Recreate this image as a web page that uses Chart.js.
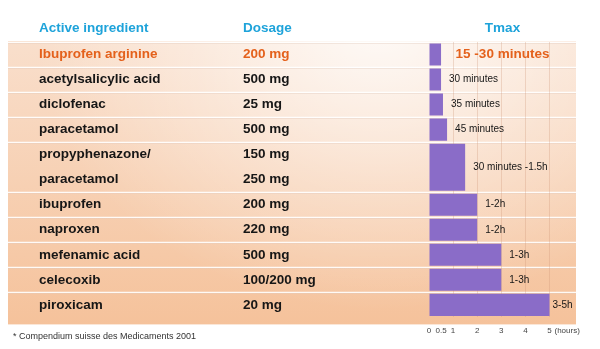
<!DOCTYPE html>
<html>
<head>
<meta charset="utf-8">
<script src="https://cdn.jsdelivr.net/npm/chart.js@4.4.0/dist/chart.umd.min.js"></script>
<style>
  html, body { margin: 0; padding: 0; background: #fff; }
  #wrap { width: 600px; height: 349px; }
</style>
</head>
<body>
<div id="wrap"><canvas id="tmaxChart" width="600" height="349"></canvas></div>
<script>
// Table rows (a two-line entry spans two row units)
const ingredients = ['Ibuprofen arginine', 'acetylsalicylic acid', 'diclofenac', 'paracetamol',
  ['propyphenazone/', 'paracetamol'], 'ibuprofen', 'naproxen', 'mefenamic acid', 'celecoxib', 'piroxicam'];
const dosages = ['200 mg', '500 mg', '25 mg', '500 mg', ['150 mg', '250 mg'], '200 mg', '220 mg',
  '500 mg', '100/200 mg', '20 mg'];
const rowSpans = [1, 1, 1, 1, 2, 1, 1, 1, 1, 1];

// Tmax: printed range and bar length in hours (upper end of the range)
const tmaxLabels = ['15 -30 minutes', '30 minutes', '35 minutes', '45 minutes', '30 minutes -1.5h',
  '1-2h', '1-2h', '1-3h', '1-3h', '3-5h'];
const tmaxHours = [0.5, 0.5, 0.58, 0.75, 1.5, 2, 2, 3, 3, 5];

const hourTicks = [0, 0.5, 1, 2, 3, 4, 5];
const footnote = '* Compendium suisse des Medicaments 2001';

const FONT = '"Liberation Sans", Arial, Helvetica, sans-serif';
const ORANGE = '#e4611c';
const BLUE = '#1ea3da';
const PURPLE = '#8a6cc8';
const TEXT = '#161616';

// where each row starts on the row axis
const rowStart = [];
let acc = 0;
rowSpans.forEach(s => { rowStart.push(acc); acc += s; });
const totalRows = acc;

const singleBars = [];
const doubleBars = [];
tmaxHours.forEach((h, i) => {
  const pt = { x: h, y: rowStart[i] + rowSpans[i] / 2 };
  (rowSpans[i] > 1 ? doubleBars : singleBars).push(pt);
});

const TABLE_LEFT = 8;
const NAME_X = 39;
const DOSE_X = 243;

const tablePlugin = {
  id: 'tableBackground',
  beforeDraw(chart) {
    const { ctx, chartArea } = chart;
    const y = chart.scales.y;
    const top = y.getPixelForValue(0) - 1;
    const bottom = chartArea.bottom + 7;
    const right = chartArea.right;

    ctx.save();
    // peach panel, darker towards the bottom
    const vg = ctx.createLinearGradient(0, top, 0, bottom);
    vg.addColorStop(0, '#f9dfcc');
    vg.addColorStop(1, '#f5c29b');
    ctx.fillStyle = vg;
    ctx.fillRect(TABLE_LEFT, top, right - TABLE_LEFT, bottom - top);

    // pale highlight across the upper middle
    ctx.save();
    ctx.beginPath();
    ctx.rect(TABLE_LEFT, top, right - TABLE_LEFT, bottom - top);
    ctx.clip();
    ctx.translate(380, 20);
    ctx.scale(1.2, 1);
    const rg = ctx.createRadialGradient(0, 0, 0, 0, 0, 290);
    rg.addColorStop(0, 'rgba(255,255,255,0.85)');
    rg.addColorStop(0.55, 'rgba(255,255,255,0.35)');
    rg.addColorStop(1, 'rgba(255,255,255,0)');
    ctx.fillStyle = rg;
    ctx.fillRect(-400, -50, 800, 400);
    ctx.restore();

    // row separators
    ctx.strokeStyle = 'rgba(255,255,255,0.9)';
    ctx.lineWidth = 1.5;
    rowStart.forEach(r => {
      const py = Math.round(y.getPixelForValue(r)) + 0.5;
      ctx.beginPath();
      ctx.moveTo(TABLE_LEFT, py);
      ctx.lineTo(right, py);
      ctx.stroke();
    });
    ctx.strokeStyle = 'rgba(200,160,135,0.35)';
    ctx.lineWidth = 0.6;
    rowStart.forEach(r => {
      const py = Math.round(y.getPixelForValue(r)) + 1.5;
      ctx.beginPath();
      ctx.moveTo(TABLE_LEFT, py);
      ctx.lineTo(right, py);
      ctx.stroke();
    });

    // header
    ctx.textBaseline = 'middle';
    ctx.font = 'bold 13.5px ' + FONT;
    ctx.fillStyle = BLUE;
    ctx.textAlign = 'left';
    ctx.fillText('Active ingredient', NAME_X, 28);
    ctx.fillText('Dosage', DOSE_X, 28);
    ctx.textAlign = 'center';
    ctx.fillText('Tmax', (chartArea.left + chartArea.right) / 2, 28);

    // ingredient and dosage columns
    ctx.textAlign = 'left';
    ingredients.forEach((name, i) => {
      const names = [].concat(name);
      const doses = [].concat(dosages[i]);
      ctx.fillStyle = i === 0 ? ORANGE : TEXT;
      names.forEach((n, k) => {
        const py = y.getPixelForValue(rowStart[i] + k + 0.5);
        ctx.fillText(n, NAME_X, py);
        ctx.fillText(doses[k], DOSE_X, py);
      });
    });

    // footnote
    ctx.font = '9px ' + FONT;
    ctx.fillStyle = '#333';
    ctx.fillText(footnote, 13, 337);
    ctx.restore();
  },
  afterDatasetsDraw(chart) {
    const { ctx, chartArea } = chart;
    const x = chart.scales.x;
    const y = chart.scales.y;
    ctx.save();
    ctx.textBaseline = 'middle';
    tmaxLabels.forEach((label, i) => {
      const py = y.getPixelForValue(rowStart[i] + rowSpans[i] / 2);
      if (i === 0) {
        ctx.font = 'bold 13.5px ' + FONT;
        ctx.fillStyle = ORANGE;
        ctx.textAlign = 'center';
        ctx.fillText(label, (chartArea.left + chartArea.right) / 2, py);
        return;
      }
      ctx.font = '10px ' + FONT;
      ctx.fillStyle = TEXT;
      ctx.textAlign = 'left';
      const end = x.getPixelForValue(tmaxHours[i]);
      const w = ctx.measureText(label).width;
      const px = end + 8 + w > chartArea.right ? end + 3 : end + 8;
      ctx.fillText(label, px, py);
    });

    // unit next to the last tick
    ctx.font = '8px ' + FONT;
    ctx.fillStyle = '#444';
    ctx.textAlign = 'left';
    ctx.fillText('(hours)', x.getPixelForValue(5) + 5, x.top + 9 + 4.8);
    ctx.restore();
  }
};

new Chart(document.getElementById('tmaxChart'), {
  type: 'bar',
  data: {
    datasets: [
      {
        label: 'Tmax',
        data: singleBars,
        backgroundColor: PURPLE,
        borderWidth: 0,
        grouped: false,
        categoryPercentage: 1,
        barPercentage: 0.88
      },
      {
        label: 'Tmax (two-line row)',
        data: doubleBars,
        backgroundColor: PURPLE,
        borderWidth: 0,
        grouped: false,
        categoryPercentage: 1,
        barPercentage: 1.88
      }
    ]
  },
  options: {
    indexAxis: 'y',
    responsive: false,
    animation: false,
    devicePixelRatio: 1,
    layout: { padding: { left: 429, right: 24, top: 42, bottom: 4 } },
    plugins: {
      legend: { display: false },
      tooltip: { enabled: false }
    },
    scales: {
      x: {
        type: 'linear',
        min: 0,
        max: 6.1,
        afterBuildTicks: scale => { scale.ticks = hourTicks.map(v => ({ value: v })); },
        grid: {
          drawTicks: false,
          color: c => (c.tick && c.tick.value >= 1 && Number.isInteger(c.tick.value))
            ? 'rgba(205,150,120,0.3)' : 'rgba(0,0,0,0)'
        },
        border: { display: false },
        ticks: {
          font: { size: 8, family: FONT },
          color: '#444',
          padding: 9,
          autoSkip: false,
          maxRotation: 0,
          callback: v => String(v)
        }
      },
      y: {
        type: 'linear',
        reverse: true,
        offset: false,
        min: 0,
        max: totalRows,
        display: false,
        ticks: { stepSize: 1 }
      }
    }
  },
  plugins: [tablePlugin]
});
</script>
</body>
</html>
